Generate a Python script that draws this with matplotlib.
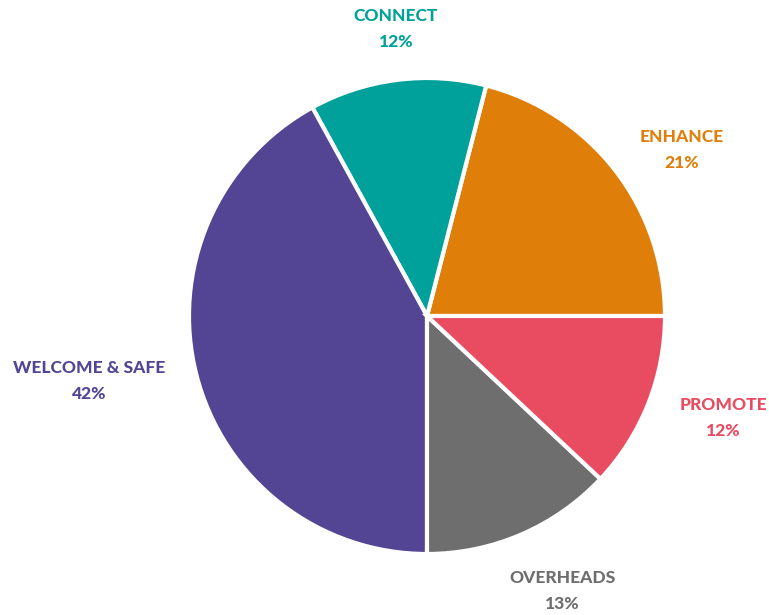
import matplotlib
matplotlib.use("Agg")
import matplotlib.pyplot as plt

categories = ["ENHANCE", "CONNECT", "WELCOME & SAFE", "OVERHEADS", "PROMOTE"]
values = [21, 12, 42, 13, 12]
colors = ["#E07E0A", "#00A19A", "#544494", "#6E6E6E", "#E94B60"]

W, H = 769, 615
fig = plt.figure(figsize=(W / 100, H / 100), dpi=100)
cx, cy, r = 427, 316, 238
ax = fig.add_axes([(cx - r) / W, (H - cy - r) / H, 2 * r / W, 2 * r / H])
ax.pie(values, colors=colors, startangle=0, counterclock=True, radius=1,
       wedgeprops=dict(edgecolor="white", linewidth=3))
ax.set_xlim(-1, 1)
ax.set_ylim(-1, 1)
ax.set_aspect("auto")
ax.axis("off")

# label centres in pixels (x, y of name line)
label_pos = {
    "CONNECT": (396, 16),
    "ENHANCE": (682, 137),
    "WELCOME & SAFE": (89, 368),
    "PROMOTE": (723, 405),
    "OVERHEADS": (562, 578),
}
for cat, val, col in zip(categories, values, colors):
    x, y = label_pos[cat]
    fig.text(x / W, 1 - y / H, cat, ha="center", va="center", color=col,
             fontsize=12.5, fontweight=900, family="Lato")
    fig.text(x / W, 1 - (y + 26) / H, f"{val}%", ha="center", va="center",
             color=col, fontsize=12.5, fontweight=900, family="Lato")

fig.savefig("out.png", dpi=100)
